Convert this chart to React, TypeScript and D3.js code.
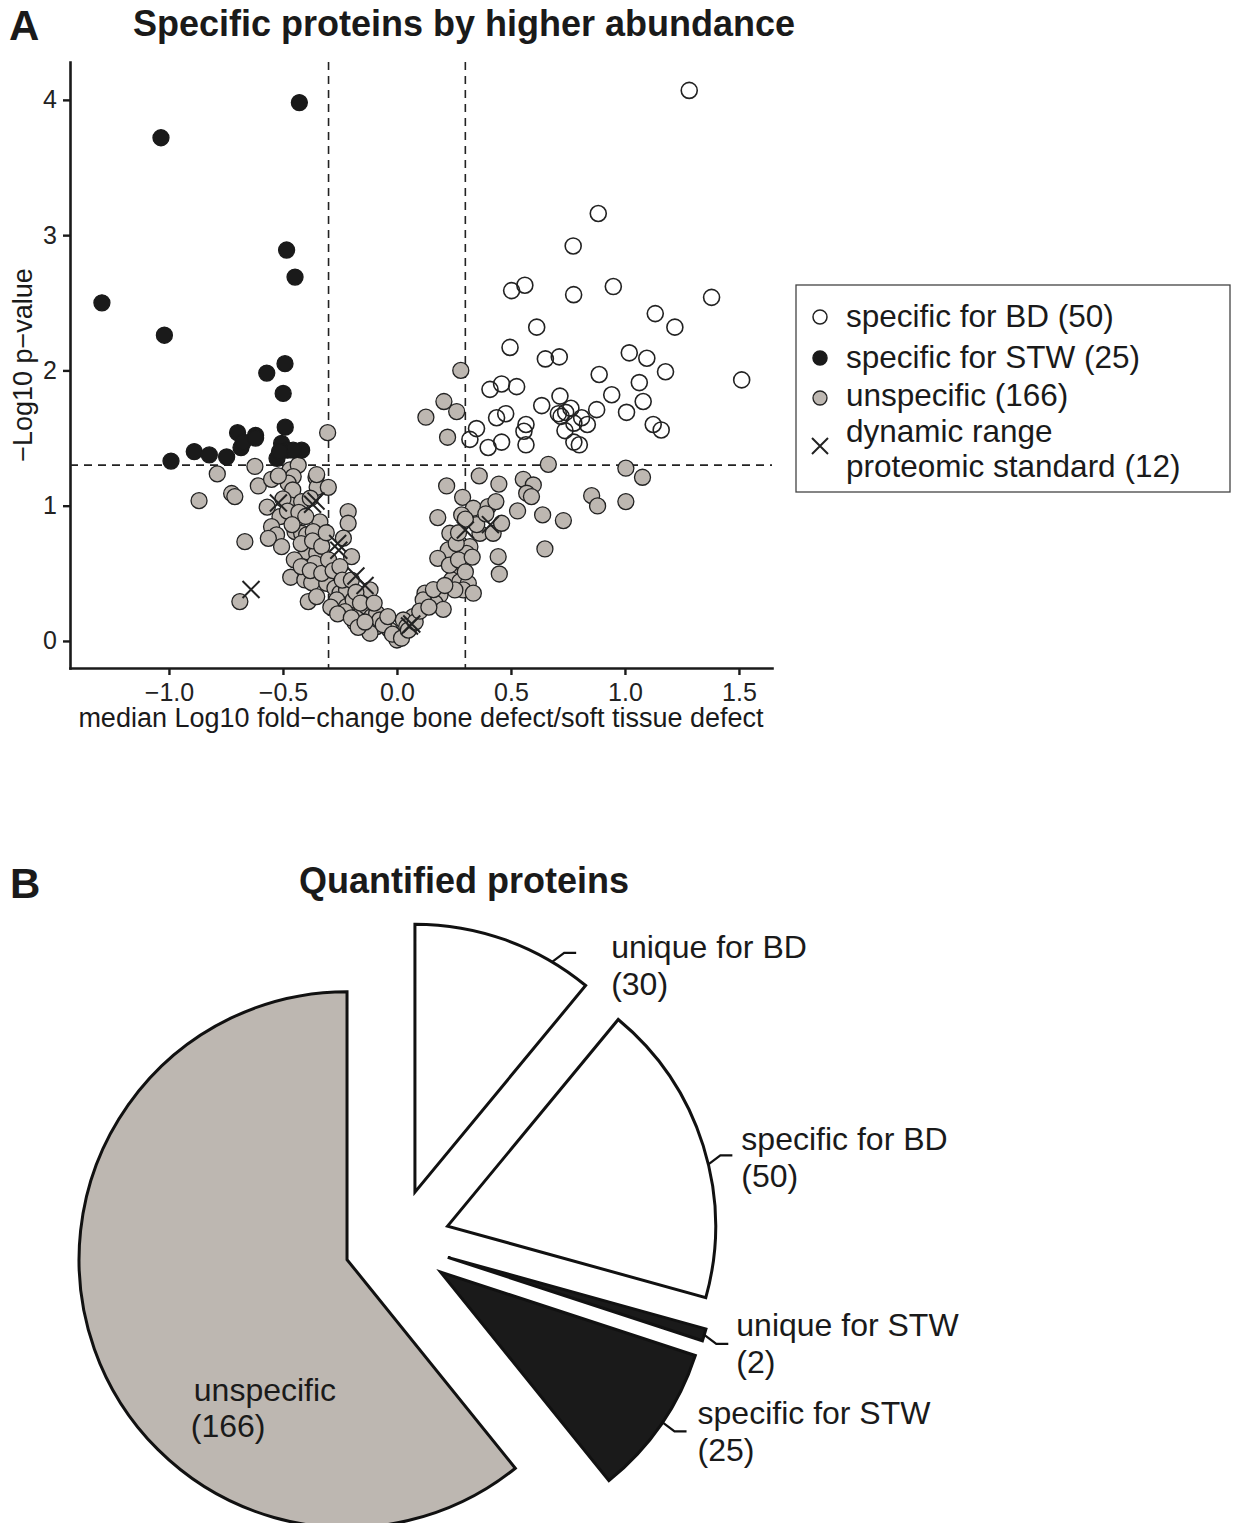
import React, { useEffect, useRef } from "react";
import * as d3 from "d3";

type Pt = [number, number];

// ---- panel A: volcano plot (x = median log10 fold change, y = -log10 p) ----
const xTicks = [-1.0, -0.5, 0.0, 0.5, 1.0, 1.5];
const yTicks = [0, 1, 2, 3, 4];
const foldCut = 0.3;
const pCut = 1.3;

const specificBD: Pt[] = [
  [1.282, 4.07], [0.883, 3.16], [0.773, 2.92], [0.503, 2.59], [0.561, 2.63],
  [0.775, 2.56], [0.949, 2.62], [1.38, 2.54], [1.133, 2.42], [1.219, 2.32],
  [0.613, 2.32], [0.496, 2.17], [0.651, 2.085], [0.712, 2.1], [1.019, 2.13],
  [1.096, 2.09], [1.512, 1.93], [0.887, 1.97], [1.178, 1.99], [1.063, 1.91],
  [0.408, 1.86], [0.459, 1.9], [0.525, 1.88], [0.715, 1.81], [0.942, 1.82],
  [1.08, 1.77], [0.635, 1.74], [0.876, 1.71], [1.007, 1.69], [0.763, 1.72],
  [0.477, 1.68], [0.437, 1.65], [0.708, 1.68], [0.74, 1.69], [0.81, 1.65],
  [0.776, 1.61], [0.835, 1.6], [0.737, 1.555], [0.566, 1.6], [0.557, 1.55],
  [1.124, 1.6], [1.159, 1.56], [0.459, 1.47], [0.566, 1.45], [0.776, 1.47],
  [0.8, 1.45], [0.349, 1.57], [0.32, 1.49], [0.4, 1.43], [0.72, 1.66],
];

const specificSTW: Pt[] = [
  [-0.428, 3.98], [-1.035, 3.72], [-0.484, 2.89], [-0.447, 2.69], [-1.294, 2.5],
  [-1.02, 2.26], [-0.491, 2.05], [-0.571, 1.98], [-0.499, 1.83], [-0.49, 1.58],
  [-0.699, 1.54], [-0.62, 1.52], [-0.684, 1.43], [-0.506, 1.46], [-0.48, 1.41],
  [-0.418, 1.41], [-0.526, 1.35], [-0.889, 1.4], [-0.823, 1.375], [-0.747, 1.36],
  [-0.991, 1.33], [-0.674, 1.47], [-0.455, 1.41], [-0.515, 1.4], [-0.62, 1.5],
];

const unspecific: Pt[] = [
  [-0.304, 1.54], [-0.623, 1.29], [-0.788, 1.235], [-0.608, 1.146], [-0.868, 1.037],
  [-0.725, 1.09], [-0.711, 1.067], [-0.55, 1.195], [-0.469, 1.264], [-0.433, 1.3],
  [-0.455, 1.215], [-0.477, 1.166], [-0.457, 1.116], [-0.355, 1.21], [-0.35, 1.136],
  [-0.301, 1.136], [-0.569, 0.989], [-0.513, 0.919], [-0.469, 1.006], [-0.44, 0.907],
  [-0.418, 1.03], [-0.38, 1.055], [-0.338, 0.88], [-0.55, 0.845], [-0.528, 0.784],
  [-0.564, 0.759], [-0.506, 0.697], [-0.447, 0.808], [-0.418, 0.796], [-0.396, 0.784],
  [-0.367, 0.808], [-0.667, 0.734], [-0.396, 0.66], [-0.352, 0.648], [-0.36, 0.574],
  [-0.214, 0.956], [-0.214, 0.87], [-0.235, 0.76], [-0.199, 0.623], [-0.466, 0.471],
  [-0.404, 0.451], [-0.374, 0.431], [-0.389, 0.291], [-0.352, 0.328], [-0.689, 0.291],
  [-0.308, 0.426], [-0.272, 0.39], [-0.25, 0.353], [-0.221, 0.377], [-0.264, 0.303],
  [-0.221, 0.254], [-0.192, 0.303], [-0.228, 0.217], [-0.184, 0.135], [-0.155, 0.205],
  [-0.133, 0.254], [-0.111, 0.18], [-0.089, 0.106], [-0.133, 0.303], [-0.352, 1.23],
  [0.127, 1.654], [0.262, 1.696], [0.206, 1.77], [0.222, 1.506], [0.664, 1.306],
  [0.361, 1.22], [0.218, 1.146], [0.447, 1.16], [0.554, 1.195], [0.598, 1.153],
  [0.569, 1.092], [0.59, 1.067], [0.288, 1.062], [0.335, 0.981], [0.4, 0.993],
  [0.434, 1.03], [0.284, 0.932], [0.179, 0.912], [0.529, 0.961], [0.639, 0.932],
  [0.73, 0.89], [0.232, 0.796], [0.364, 0.796], [0.422, 0.796], [0.32, 0.697],
  [0.305, 0.648], [0.225, 0.673], [0.179, 0.611], [0.649, 0.68], [0.444, 0.623],
  [0.449, 0.495], [0.284, 0.537], [0.254, 0.5], [0.24, 0.451], [0.276, 0.438],
  [0.313, 0.426], [0.291, 0.377], [0.254, 0.377], [0.335, 0.353], [0.189, 0.34],
  [0.167, 0.279], [0.123, 0.353], [0.115, 0.303], [0.203, 0.234], [0.071, 0.18],
  [0.028, 0.155], [0.043, 0.106], [-0.089, 0.205], [-0.075, 0.155], [-0.031, 0.08],
  [0.0, 0.007], [-0.118, 0.057], [-0.118, 0.377], [1.004, 1.277], [1.077, 1.21],
  [0.854, 1.074], [0.88, 0.998], [1.004, 1.03], [0.459, 0.87], [0.28, 2.0],
  [-0.52, 1.22], [-0.5, 1.05], [-0.48, 0.96], [-0.43, 0.95], [-0.4, 0.92],
  [-0.46, 0.86], [-0.42, 0.72], [-0.37, 0.74], [-0.33, 0.7], [-0.31, 0.8],
  [-0.45, 0.6], [-0.42, 0.55], [-0.38, 0.52], [-0.33, 0.5], [-0.3, 0.6],
  [-0.28, 0.52], [-0.25, 0.55], [-0.24, 0.45], [-0.2, 0.45], [-0.18, 0.36],
  [-0.16, 0.28], [-0.29, 0.25], [-0.26, 0.2], [-0.2, 0.17], [-0.17, 0.1],
  [-0.14, 0.14], [-0.1, 0.28], [-0.06, 0.12], [-0.04, 0.18], [-0.02, 0.05],
  [0.02, 0.02], [0.05, 0.08], [0.08, 0.14], [0.1, 0.22], [0.14, 0.25],
  [0.16, 0.38], [0.21, 0.41], [0.23, 0.56], [0.27, 0.6], [0.3, 0.51],
  [0.33, 0.62], [0.26, 0.72], [0.35, 0.86], [0.3, 0.9], [0.39, 0.94],
  [0.27, 0.8],
];

const proteomicStandard: Pt[] = [
  [-0.64, 0.38], [-0.52, 1.02], [-0.37, 1.01], [-0.355, 1.035], [-0.26, 0.72],
  [-0.255, 0.67], [-0.18, 0.48], [-0.14, 0.41], [0.055, 0.11], [0.065, 0.125],
  [0.3, 0.82], [0.41, 0.86],
];

const legendLabels = [
  ["specific for BD (50)"],
  ["specific for STW (25)"],
  ["unspecific (166)"],
  ["dynamic range", "proteomic standard (12)"],
];

// ---- panel B: exploded pie ----
const pieNames = ["unique for BD", "specific for BD", "unique for STW", "specific for STW", "unspecific"];
const pieCounts = [30, 50, 2, 25, 166];

const GRAY = "#bdb7b1";
const DARK = "#1a1a1a";
const pieFills = ["#ffffff", "#ffffff", DARK, DARK, GRAY];

export default function App() {
  const ref = useRef<SVGSVGElement>(null);

  useEffect(() => {
    const font = "'Liberation Sans', Arial, sans-serif";
    const svg = d3.select(ref.current);
    svg.selectAll("*").remove();
    svg.attr("font-family", font);

    // panel A heading
    svg.append("text").attr("x", 9).attr("y", 40)
      .attr("font-size", 42).attr("font-weight", "bold").attr("fill", DARK).text("A");
    svg.append("text").attr("x", 464).attr("y", 36).attr("text-anchor", "middle")
      .attr("font-size", 36).attr("font-weight", "bold").attr("fill", DARK)
      .text("Specific proteins by higher abundance");

    const x = d3.scaleLinear().domain([-1.434, 1.645]).range([70, 772]);
    const y = d3.scaleLinear().domain([-0.2, 4.28]).range([668, 62]);

    // axes
    const gx = svg.append("g").attr("transform", "translate(0,668)")
      .call(d3.axisBottom(x).tickValues(xTicks).tickSize(7).tickSizeOuter(0)
        .tickPadding(8).tickFormat(d3.format(".1f")));
    const gy = svg.append("g").attr("transform", "translate(70,0)")
      .call(d3.axisLeft(y).tickValues(yTicks).tickSize(7).tickSizeOuter(0)
        .tickPadding(6).tickFormat(d3.format("d")));
    [gx, gy].forEach((g) => {
      g.attr("font-family", font).attr("font-size", 25);
      g.select(".domain").attr("stroke", DARK).attr("stroke-width", 2.6).attr("stroke-linecap", "square");
      g.selectAll(".tick line").attr("stroke", DARK).attr("stroke-width", 2.4);
      g.selectAll(".tick text").attr("fill", "#222");
    });

    svg.append("text").attr("x", 421).attr("y", 727).attr("text-anchor", "middle")
      .attr("font-size", 27).attr("fill", DARK)
      .text("median Log10 fold\u2212change bone defect/soft tissue defect");
    svg.append("text").attr("transform", "translate(32,365) rotate(-90)")
      .attr("text-anchor", "middle").attr("font-size", 27).attr("fill", DARK)
      .text("\u2212Log10 p\u2212value");

    // threshold lines
    const [yBot, yTop] = y.range();
    const [xL, xR] = x.range();
    const dash = svg.append("g").attr("stroke", "#222").attr("stroke-width", 1.6).attr("stroke-dasharray", "8,6");
    [-foldCut, foldCut].forEach((v) => {
      dash.append("line").attr("x1", x(v)).attr("x2", x(v)).attr("y1", yTop).attr("y2", yBot);
    });
    dash.append("line").attr("x1", xL).attr("x2", xR).attr("y1", y(pCut)).attr("y2", y(pCut));

    // points
    const pts = svg.append("g");
    pts.selectAll("circle.u").data(unspecific).join("circle").attr("class", "u")
      .attr("cx", (d) => x(d[0])).attr("cy", (d) => y(d[1])).attr("r", 8)
      .attr("fill", GRAY).attr("stroke", "#222").attr("stroke-width", 1.3);
    pts.selectAll("circle.s").data(specificSTW).join("circle").attr("class", "s")
      .attr("cx", (d) => x(d[0])).attr("cy", (d) => y(d[1])).attr("r", 8)
      .attr("fill", DARK).attr("stroke", DARK).attr("stroke-width", 1.3);
    pts.selectAll("circle.b").data(specificBD).join("circle").attr("class", "b")
      .attr("cx", (d) => x(d[0])).attr("cy", (d) => y(d[1])).attr("r", 8)
      .attr("fill", "none").attr("stroke", "#222").attr("stroke-width", 1.6);
    const cross = (cx: number, cy: number, h: number) =>
      `M${cx - h},${cy - h}L${cx + h},${cy + h}M${cx - h},${cy + h}L${cx + h},${cy - h}`;
    pts.selectAll("path.x").data(proteomicStandard).join("path").attr("class", "x")
      .attr("d", (d) => cross(x(d[0]), y(d[1]), 8.5))
      .attr("fill", "none").attr("stroke", "#222").attr("stroke-width", 2);

    // legend
    const lg = svg.append("g");
    lg.append("rect").attr("x", 796).attr("y", 285).attr("width", 434).attr("height", 207)
      .attr("fill", "#fff").attr("stroke", "#444").attr("stroke-width", 1.3);
    const symY = [317, 358, 398, 446];
    const textY = [327, 368, 406, 442];
    lg.append("circle").attr("cx", 820).attr("cy", symY[0]).attr("r", 7)
      .attr("fill", "none").attr("stroke", "#222").attr("stroke-width", 1.5);
    lg.append("circle").attr("cx", 820).attr("cy", symY[1]).attr("r", 7)
      .attr("fill", DARK).attr("stroke", DARK).attr("stroke-width", 1.5);
    lg.append("circle").attr("cx", 820).attr("cy", symY[2]).attr("r", 7)
      .attr("fill", GRAY).attr("stroke", "#222").attr("stroke-width", 1.3);
    lg.append("path").attr("d", cross(820, symY[3], 8))
      .attr("stroke", "#222").attr("stroke-width", 2).attr("fill", "none");
    legendLabels.forEach((lines, i) => {
      lines.forEach((t, j) => {
        lg.append("text").attr("x", 846).attr("y", textY[i] + j * 35)
          .attr("font-size", 31.5).attr("fill", DARK).text(t);
      });
    });

    // panel B heading
    svg.append("text").attr("x", 10).attr("y", 898)
      .attr("font-size", 42).attr("font-weight", "bold").attr("fill", DARK).text("B");
    svg.append("text").attr("x", 464).attr("y", 893).attr("text-anchor", "middle")
      .attr("font-size", 36).attr("font-weight", "bold").attr("fill", DARK)
      .text("Quantified proteins");

    // exploded pie
    const cx = 397, cy = 1242, R = 268, explode = 53;
    const slices = d3.pie<number>().sort(null).value((d) => d)(pieCounts);
    const arc = d3.arc<d3.PieArcDatum<number>>().innerRadius(0).outerRadius(R);
    const gp = svg.append("g").attr("transform", `translate(${cx},${cy})`);
    const apex = slices.map((s) => {
      const mid = (s.startAngle + s.endAngle) / 2;
      return [explode * Math.sin(mid), -explode * Math.cos(mid)] as Pt;
    });
    slices.forEach((s, i) => {
      gp.append("path").attr("transform", `translate(${apex[i][0]},${apex[i][1]})`)
        .attr("d", arc(s) as string).attr("fill", pieFills[i])
        .attr("stroke", "#111").attr("stroke-width", 3).attr("stroke-linejoin", "miter");
    });

    // outside labels with elbow leaders
    const leaderDeg = [30.8, 76.7, 106.8, 124.1];
    const labelDx = [35, 9, 8, 11];
    const labelDy = [5, -5, -8, -7];
    leaderDeg.forEach((deg, i) => {
      const a = (deg * Math.PI) / 180;
      const sx = cx + apex[i][0] + R * Math.sin(a);
      const sy = cy + apex[i][1] - R * Math.cos(a);
      const up = deg < 90 ? -1 : 1;
      const ex = sx + 12, ey = sy + up * 9;
      svg.append("path").attr("d", `M${sx},${sy}L${ex},${ey}L${ex + 12},${ey}`)
        .attr("fill", "none").attr("stroke", "#111").attr("stroke-width", 2.2);
      const tx = ex + 12 + labelDx[i];
      const ty = ey + labelDy[i];
      svg.append("text").attr("x", tx).attr("y", ty).attr("font-size", 32).attr("fill", DARK).text(pieNames[i]);
      svg.append("text").attr("x", tx).attr("y", ty + 37).attr("font-size", 32).attr("fill", DARK)
        .text(`(${pieCounts[i]})`);
    });

    // inside label for the largest slice
    const ia = (230 * Math.PI) / 180;
    const ux = cx + apex[4][0] + 200 * Math.sin(ia);
    const uy = cy + apex[4][1] - 200 * Math.cos(ia);
    svg.append("text").attr("x", ux).attr("y", uy + 13).attr("font-size", 32).attr("fill", DARK).text(pieNames[4]);
    svg.append("text").attr("x", ux - 3).attr("y", uy + 49).attr("font-size", 32).attr("fill", DARK)
      .text(`(${pieCounts[4]})`);
  }, []);

  return (
    <svg
      ref={ref}
      width={1236}
      height={1523}
      style={{ position: "absolute", left: 0, top: 0, background: "#fff" }}
    />
  );
}
